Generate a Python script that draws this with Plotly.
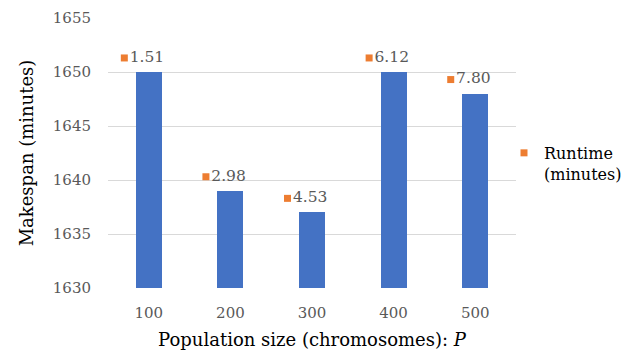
import plotly.graph_objects as go

population = [100, 200, 300, 400, 500]
makespan = [1650, 1639, 1637, 1650, 1648]
runtime = [1.51, 2.98, 4.53, 6.12, 7.80]
runtime_labels = ["1.51", "2.98", "4.53", "6.12", "7.80"]
y_ticks = [1630, 1635, 1640, 1645, 1650, 1655]

FONT = "DejaVu Serif"
GRAY = "#595959"
BLUE = "#4472C4"
ORANGE = "#ED7D31"

label_dx = -30   # data-unit offset of label key from bar centre
label_dy = 1.3   # data-unit offset above bar top

fig = go.Figure()
fig.add_trace(go.Bar(
    x=population, y=makespan, width=32,
    marker=dict(color=BLUE, line=dict(width=0)),
    showlegend=False, hoverinfo="skip",
))
fig.add_trace(go.Scatter(
    x=[p + label_dx for p in population],
    y=[m + label_dy for m in makespan],
    mode="markers+text",
    text=runtime_labels,
    textposition="middle right",
    textfont=dict(family=FONT, size=15.5, color=GRAY),
    marker=dict(symbol="square", size=7, color=ORANGE),
    name="Runtime<br>(minutes)",
    customdata=runtime,
))

fig.update_layout(
    width=630, height=354,
    margin=dict(l=108, r=114, t=18, b=66, autoexpand=False),
    paper_bgcolor="white", plot_bgcolor="white",
    font=dict(family=FONT, color=GRAY, size=15),
    xaxis=dict(
        range=[50, 550], tickvals=population, ticktext=[str(p) for p in population],
        showgrid=False, zeroline=False, showline=False, automargin=False,
        tickfont=dict(family=FONT, size=15, color=GRAY),
        ticks="", ticklabelstandoff=14,
        title=dict(text="Population size (chromosomes): <i>P</i>",
                   font=dict(family=FONT, size=18, color="black"), standoff=12),
    ),
    yaxis=dict(
        range=[1630, 1655], tickvals=y_ticks, automargin=False,
        showgrid=True, gridcolor="#D9D9D9", gridwidth=1, zeroline=False,
        showline=False, ticks="", ticklabelstandoff=16,
        tickfont=dict(family=FONT, size=15, color=GRAY),
        title=dict(text="Makespan (minutes)",
                   font=dict(family=FONT, size=18, color="black"), standoff=14),
    ),
    legend=dict(
        xref="container", yref="container",
        x=0.80, y=0.616, xanchor="left", yanchor="top",
        font=dict(family=FONT, size=16, color="black"),
        bgcolor="rgba(0,0,0,0)", valign="top", itemwidth=30,
        tracegroupgap=0,
    ),
    bargap=0,
)

fig.write_html("out.html")
